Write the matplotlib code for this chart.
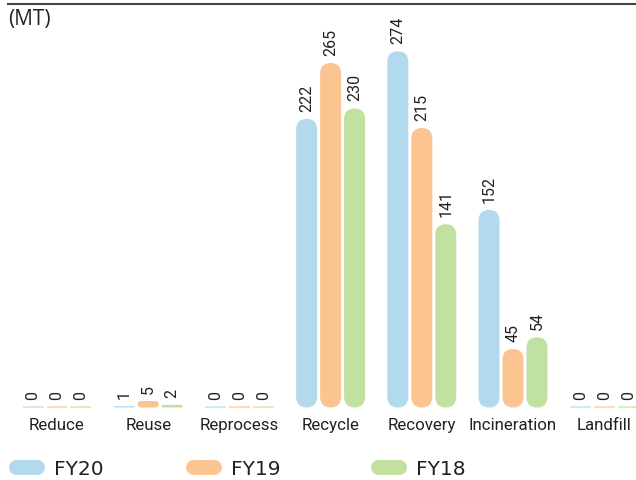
import matplotlib
matplotlib.use("Agg")
import matplotlib.pyplot as plt
from matplotlib.patches import FancyBboxPatch
from matplotlib.lines import Line2D
import numpy as np

categories = ["Reduce", "Reuse", "Reprocess", "Recycle", "Recovery", "Incineration", "Landfill"]
series_names = ["FY20", "FY19", "FY18"]
fy20 = [0, 1, 0, 222, 274, 152, 0]
fy19 = [0, 5, 0, 265, 215, 45, 0]
fy18 = [0, 2, 0, 230, 141, 54, 0]
series_values = [fy20, fy19, fy18]
colors = ["#B3D9EE", "#FCC490", "#C1E1A0"]

W, H = 636, 481
fig = plt.figure(figsize=(W / 100, H / 100), dpi=100)

base_px = 408.5
px_per_unit = 1.30
top_px = 10
spacing_px = 91.2
first_px = 57

ax = fig.add_axes([0, (H - base_px) / H, 1, (base_px - top_px) / H])
ymax = (base_px - top_px) / px_per_unit
ax.set_ylim(0, ymax)
ax.set_xlim(-first_px / spacing_px, (W - first_px) / spacing_px)

x = np.arange(len(categories))
bw = 0.23
off = 0.263
m_aspect = (1 / px_per_unit) / (1 / spacing_px)

for i, (vals, col) in enumerate(zip(series_values, colors)):
    bars = ax.bar(x + (i - 1) * off, vals, width=bw, color=col)
    for rect, v in zip(bars, vals):
        rect.set_visible(False)
        x0, y0 = rect.get_x(), rect.get_y()
        w, h = rect.get_width(), rect.get_height()
        if h > 0:
            r = min(w / 2, h / (2 * m_aspect))
            p = FancyBboxPatch((x0, y0), w, h,
                               boxstyle=f"round,pad=0,rounding_size={r}",
                               mutation_aspect=m_aspect,
                               facecolor=col, edgecolor="none", linewidth=0)
            ax.add_patch(p)
        else:
            ax.plot([x0, x0 + w], [0.3, 0.3], color=col, lw=1.2, alpha=0.7,
                    solid_capstyle="butt")
        ax.annotate(str(v), xy=(x0 + w / 2, v), xytext=(0, 6),
                    textcoords="offset points", rotation=90,
                    ha="center", va="bottom", fontsize=11.5,
                    family="Roboto", color="#222222")

ax.set_xticks(x)
ax.set_xticklabels(categories, family="Roboto", fontsize=12.2, color="#222222")
ax.tick_params(axis="x", length=0, pad=7)
ax.set_yticks([])
for s in ax.spines.values():
    s.set_visible(False)
ax.patch.set_alpha(0)

fig.add_artist(Line2D([8 / W, 1], [1 - 5 / H, 1 - 5 / H], color="#444444", lw=1.5))
fig.text(8 / W, 1 - 20 / H, "(MT)", family="Open Sans", fontsize=15,
         color="#222222", va="center", ha="left")

legend_x_px = [15.5, 192.5, 377.5]
fs = 14.5
for name, col, lx in zip(series_names, colors, legend_x_px):
    h = Line2D([0], [0], color=col, lw=10.8, solid_capstyle="round")
    fig.legend([h], [name], loc="center left",
               bbox_to_anchor=(lx / W, 1 - 470 / H), frameon=False,
               prop={"family": "DejaVu Sans", "size": fs}, handlelength=1.09,
               handletextpad=0.82, borderpad=0, borderaxespad=0,
               labelcolor="#222222")

fig.savefig("out.png", dpi=100)
